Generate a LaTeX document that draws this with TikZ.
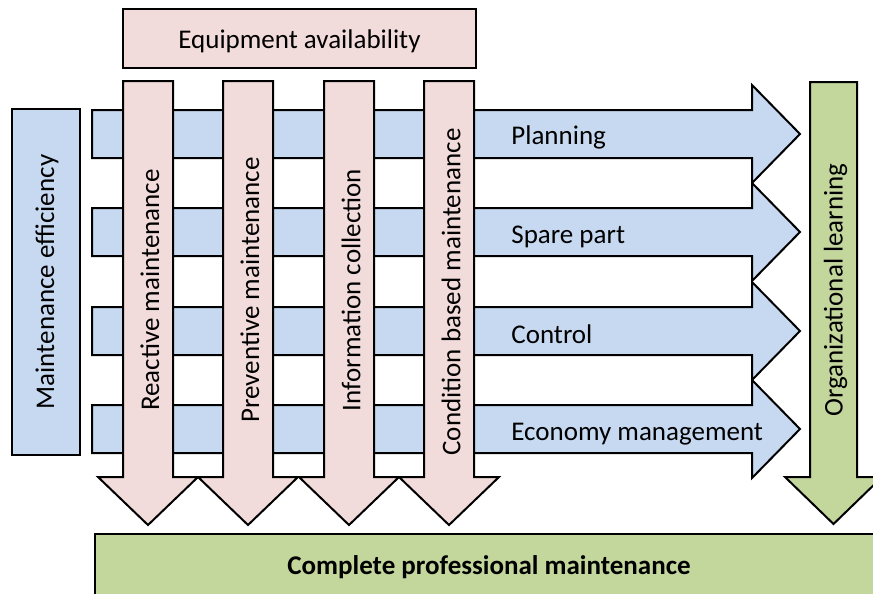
\documentclass[tikz,border=0pt]{standalone}
\usepackage{fontspec}
\setmainfont{Carlito}
\usetikzlibrary{positioning}
\definecolor{bluefill}{HTML}{C6D9F1}
\definecolor{pinkfill}{HTML}{F2DCDB}
\definecolor{greenfill}{HTML}{C3D69B}
\tikzset{d/.style={line width=1pt}}
% right arrow band, #1 = y of its axis
\newcommand{\bluearrow}[1]{%
  \draw[d, fill=bluefill] (92,#1-24) -- (752,#1-24) -- (752,#1-49) -- (800,#1)
    -- (752,#1+49) -- (752,#1+24) -- (92,#1+24) -- cycle;}
% down arrow column, #1 = x of its axis, #2 = half width, #3 = fill
\newcommand{\columnarrow}[3]{%
  \draw[d, fill=#3] (#1-#2,81) -- (#1+#2,81) -- (#1+#2,477) -- (#1+2*#2,477)
    -- (#1,525) -- (#1-2*#2,477) -- (#1-#2,477) -- cycle;}

\begin{document}
\begin{tikzpicture}[x=0.5pt, y=-0.5pt, font=\fontsize{13.5}{16}\selectfont,
lbl/.style={inner sep=1pt},
]
\useasboundingbox (0,0) rectangle (873,594);

%Boxes
\draw[d, fill=pinkfill] (123,9) rectangle (476,68);
\draw[d, fill=bluefill] (12,109) rectangle (80,455);
\draw[d, fill=greenfill] (95,534) rectangle (885,610);

%Arrows
\bluearrow{134}
\bluearrow{232}
\bluearrow{331}
\bluearrow{429}
\columnarrow{148}{25}{pinkfill}
\columnarrow{248}{25}{pinkfill}
\columnarrow{349}{25}{pinkfill}
\columnarrow{449}{25}{pinkfill}
\draw[d, fill=greenfill] (810,82) -- (857,82) -- (857,477) -- (882,477)
  -- (833.5,524) -- (785,477) -- (810,477) -- cycle;

%Nodes
\node[lbl] (equipment)  at (299.5,41) {Equipment availability};
\node[lbl, rotate=90] (efficiency) at (47,282) {Maintenance efficiency};
\node[lbl, rotate=90] (reactive)   at (150,290) {Reactive maintenance};
\node[lbl, rotate=90] (preventive) at (250,290) {Preventive maintenance};
\node[lbl, rotate=90] (information) at (351,290) {Information collection};
\node[lbl, rotate=90] (condition)  at (451,292) {Condition based maintenance};
\node[lbl, rotate=90] (learning)   at (835.5,290) {Organizational learning};
\node[lbl, anchor=west] (planning) at (509,137) {Planning};
\node[lbl, anchor=west] (spare)    at (509,237) {Spare part};
\node[lbl, anchor=west] (control)  at (509,334) {Control};
\node[lbl, anchor=west] (economy)  at (509,434) {Economy management};
\node[lbl, font=\fontsize{13.5}{16}\selectfont\bfseries] (complete) at (489,567) {Complete professional maintenance};
\end{tikzpicture}
\end{document}
